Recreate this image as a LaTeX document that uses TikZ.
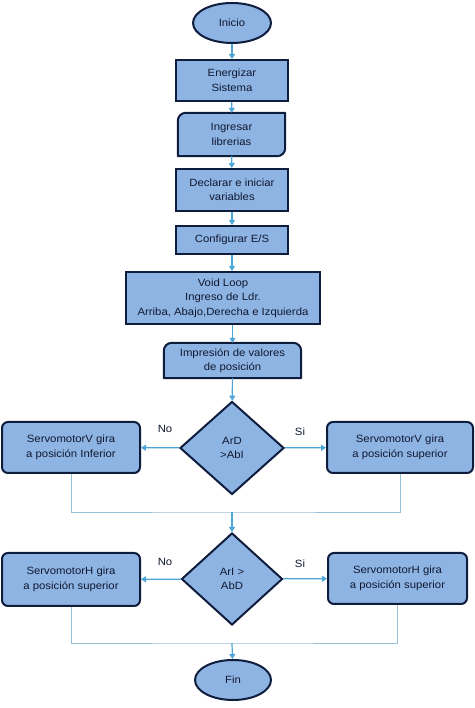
\documentclass[tikz,border=0pt]{standalone}
\usepackage{fontspec}
\setmainfont{Liberation Sans}[FakeStretch=1.08]
\usetikzlibrary{shapes.geometric,arrows.meta}
\definecolor{boxfill}{HTML}{8EB4E3}
\definecolor{navy}{HTML}{0F1D3D}
\definecolor{arrowblue}{HTML}{4DA6D6}
\definecolor{mergeblue}{HTML}{96BFD8}
\definecolor{txt}{HTML}{101830}
\tikzset{
  base/.style={align=center, text=txt, font=\fontsize{10.5}{14.5}\selectfont, inner sep=0pt},
  plainbox/.style={base, rectangle, draw=navy, fill=boxfill, line width=2pt},
  roundbox/.style={base, rectangle, rounded corners=6pt, draw=navy, fill=boxfill, line width=2pt},
  bare/.style={base, rectangle},
  border/.style={draw=navy, fill=boxfill, line width=2pt, line join=round},
  term/.style={base, ellipse, draw=navy, fill=boxfill, line width=2pt},
  decision/.style={base, diamond, draw=navy, fill=boxfill, line width=2pt, aspect=1.1},
  flow/.style={draw=arrowblue, line width=1.2pt, -{Triangle[width=6pt,length=5pt]}},
  merge/.style={draw=mergeblue, line width=0.9pt},
  lbl/.style={base, fill=white, inner sep=2pt}
}
\begin{document}
\begin{tikzpicture}[x=1pt,y=1pt]
\useasboundingbox (0,0) rectangle (474,708);
% nodes
\node[term, minimum width=78pt, minimum height=40pt] (ini) at (232,685) {Inicio};
\node[plainbox, minimum width=112pt, minimum height=41pt] (ene) at (232,627.5) {Energizar\\Sistema};
\node[bare, minimum width=107pt, minimum height=43pt] (ing) at (231.5,573.5) {};
\draw[border] ([yshift=-8pt]ing.north west) arc[start angle=180,end angle=90,radius=8pt]
  -- (ing.north east) -- ([yshift=8pt]ing.south east) arc[start angle=0,end angle=-90,radius=8pt]
  -- (ing.south west) -- cycle;
\node[base] at (ing) {Ingresar\\librerias};
\node[plainbox, minimum width=112pt, minimum height=42pt] (dec) at (232,518) {Declarar e iniciar\\variables};
\node[plainbox, minimum width=112pt, minimum height=28pt] (con) at (232,468) {Configurar E/S};
\node[plainbox, minimum width=194pt, minimum height=52pt] (voi) at (223,410) {Void Loop\\Ingreso de Ldr.\\Arriba, Abajo,Derecha e Izquierda};
\node[bare, minimum width=137pt, minimum height=35pt] (imp) at (232.5,347.5) {};
\draw[border] (imp.south west) -- ([yshift=-8pt]imp.north west) arc[start angle=180,end angle=90,radius=8pt]
  -- ([xshift=-8pt]imp.north east) arc[start angle=90,end angle=0,radius=8pt]
  -- (imp.south east) -- cycle;
\node[base] at (imp) {Impresión de valores\\de posición};
\node[decision, minimum width=104pt, minimum height=93pt] (d1) at (232,260) {ArD\\>AbI};
\node[roundbox, minimum width=138pt, minimum height=51pt] (vl) at (71,260.5) {ServomotorV gira\\a posición Inferior};
\node[roundbox, minimum width=146pt, minimum height=51pt] (vr) at (400,260.5) {ServomotorV gira\\a posición superior};
\node[decision, minimum width=101pt, minimum height=92pt] (d2) at (232,129) {ArI >\\AbD};
\node[roundbox, minimum width=138pt, minimum height=53pt] (hl) at (71,128.5) {ServomotorH gira\\a posición superior};
\node[roundbox, minimum width=139pt, minimum height=51pt] (hr) at (397.5,129.5) {ServomotorH gira\\a posición superior};
\node[term, minimum width=76pt, minimum height=40pt] (fin) at (233,28) {Fin};
\node[lbl] (no1) at (165,279) {No};
\node[lbl] (si1) at (300,276) {Si};
\node[lbl] (no2) at (165,146) {No};
\node[lbl] (si2) at (300,144) {Si};
\coordinate (m1) at (232,196);
\coordinate (m2) at (232,65);
% connectors
\draw[flow] (ini) -- (ene);
\draw[flow] (ene) -- (ing);
\draw[flow] (ing) -- (dec);
\draw[flow] (dec) -- (con);
\draw[flow] (con) -- (voi.north -| con);
\draw[flow] (voi.south -| imp) -- (imp);
\draw[flow] (imp) -- (d1);
\draw[flow] (d1) -- (vl);
\draw[flow] (d1) -- (vr);
\draw[merge] (vl.south) |- (m1) -| (vr.south);
\draw[flow] (m1) -- (d2);
\draw[flow] (d2) -- (hl);
\draw[flow] (d2) -- (hr);
\draw[merge] (hl.south) |- (m2) -| (hr.south);
\draw[flow] (m2) -- (fin);
\end{tikzpicture}
\end{document}
